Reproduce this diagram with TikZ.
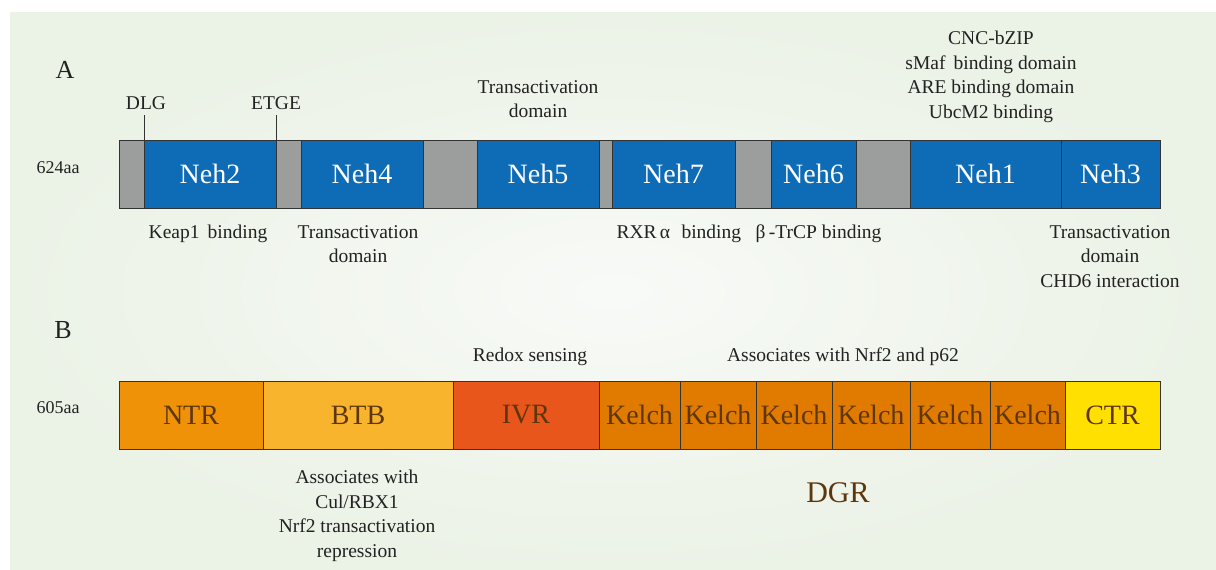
\documentclass[tikz,border=0pt]{standalone}
\usepackage{fontspec}
\setmainfont{Liberation Serif}
\definecolor{nehblue}{HTML}{0E6BB6}
\definecolor{linkgray}{HTML}{9C9E9D}
\definecolor{edge}{HTML}{333333}
\definecolor{ntr}{HTML}{F09208}
\definecolor{btb}{HTML}{F8B42C}
\definecolor{ivr}{HTML}{E8561B}
\definecolor{kelch}{HTML}{E07B00}
\definecolor{ctr}{HTML}{FFE000}
\definecolor{browntext}{HTML}{5E360C}
\definecolor{txt}{HTML}{222222}
\definecolor{bgout}{HTML}{EBF2E6}
\definecolor{bgin}{HTML}{F8FAF7}
\tikzset{
  seg/.style={draw=edge, line width=1pt, minimum height=68pt, inner sep=0pt, anchor=north west, outer sep=0pt},
  neh/.style={seg, fill=nehblue, text=white, font=\fontsize{28}{30}\selectfont},
  gap/.style={seg, fill=linkgray},
  kdom/.style={seg, text=browntext, font=\fontsize{28}{30}\selectfont},
  lbl/.style={text=txt, font=\fontsize{19.5}{24.5}\selectfont, align=center, inner sep=0pt},
  small/.style={text=txt, font=\fontsize{18}{22}\selectfont, inner sep=0pt},
  panel/.style={text=txt, font=\fontsize{26}{28}\selectfont, inner sep=0pt},
  tick/.style={draw=edge, line width=1pt}
}
\begin{document}
\begin{tikzpicture}[x=1pt,y=-1pt]
\useasboundingbox (0,0) rectangle (1216,570);
\fill[white] (0,0) rectangle (1216,570);
\shade[inner color=bgin, outer color=bgout] (10,12) rectangle (1216,570);

% ---- Panel A ----
\node[panel] (labA) at (65,70) {A};
\node[small] (aa624) at (58,168) {624aa};

\node[gap, minimum width=25pt] (g1) at (119,140) {};
\node[neh, minimum width=132pt] (neh2) at (144,140) {Neh2};
\node[gap, minimum width=25pt] (g2) at (276,140) {};
\node[neh, minimum width=122pt] (neh4) at (301,140) {Neh4};
\node[gap, minimum width=54pt] (g3) at (423,140) {};
\node[neh, minimum width=122pt] (neh5) at (477,140) {Neh5};
\node[gap, minimum width=13pt] (g4) at (599,140) {};
\node[neh, minimum width=123pt] (neh7) at (612,140) {Neh7};
\node[gap, minimum width=36pt] (g5) at (735,140) {};
\node[neh, minimum width=85pt] (neh6) at (771,140) {Neh6};
\node[gap, minimum width=54pt] (g6) at (856,140) {};
\node[neh, minimum width=151pt] (neh1) at (910,140) {Neh1};
\node[neh, minimum width=99pt] (neh3) at (1061,140) {Neh3};

\node[lbl] (dlg) at (146,103) {DLG};
\node[lbl] (etge) at (276,103) {ETGE};
\coordinate (dlgtop) at (144,115);
\coordinate (etgetop) at (276,115);
\draw[tick] (dlgtop) -- (neh2.north west);
\draw[tick] (etgetop) -- (neh2.north east);

\node[lbl, anchor=north] (ta5) at (538,80) {Transactivation\\domain};
\node[lbl, anchor=north] (cnc) at (991,31) {CNC-bZIP\\sMaf\, binding domain\\ARE binding domain\\UbcM2 binding};

\node[lbl, anchor=north] (keap) at (208,225) {Keap1\, binding};
\node[lbl, anchor=north] (ta4) at (358,225) {Transactivation\\domain};
\node[lbl, anchor=north] (rxr) at (749,225) {RXR\,α\,\, binding\,\,\, β\,-TrCP binding};
\node[lbl, anchor=north] (ta3) at (1110,225) {Transactivation\\domain\\CHD6 interaction};

% ---- Panel B ----
\node[panel] (labB) at (63,330) {B};
\node[small] (aa605) at (58,408) {605aa};

\node[kdom, fill=ntr, minimum width=144pt] (ntrb) at (119,381) {NTR};
\node[kdom, fill=btb, minimum width=190pt] (btbb) at (263,381) {BTB};
\node[kdom, fill=ivr, minimum width=146pt] (ivrb) at (453,381) {IVR};
\node[kdom, fill=kelch, minimum width=81pt] (k1) at (599,381) {Kelch};
\node[kdom, fill=kelch, minimum width=76pt] (k2) at (680,381) {Kelch};
\node[kdom, fill=kelch, minimum width=76pt] (k3) at (756,381) {Kelch};
\node[kdom, fill=kelch, minimum width=78pt] (k4) at (832,381) {Kelch};
\node[kdom, fill=kelch, minimum width=80pt] (k5) at (910,381) {Kelch};
\node[kdom, fill=kelch, minimum width=75pt] (k6) at (990,381) {Kelch};
\node[kdom, fill=ctr, minimum width=95pt] (ctrb) at (1065,381) {CTR};

\node[lbl] (redox) at (530,357) {Redox sensing};
\node[lbl] (assoc) at (843,357) {Associates with Nrf2 and p62};
\node[lbl, anchor=north] (cul) at (357,470) {Associates with\\Cul/RBX1\\Nrf2 transactivation\\repression};
\node[text=browntext, font=\fontsize{30}{32}\selectfont, inner sep=0pt] (dgr) at (838,493) {DGR};
\end{tikzpicture}
\end{document}
